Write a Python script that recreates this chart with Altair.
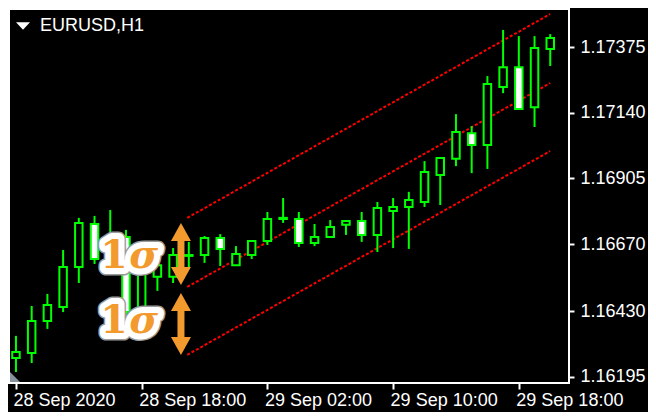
import altair as alt
import pandas as pd

# ---- data (EURUSD, H1) ----
bar_index = list(range(35))
opens = [1.16263, 1.16281, 1.16395, 1.16445, 1.16588, 1.16742, 1.16617, 1.16696, 1.16435, 1.16553,
         1.16553, 1.16628, 1.16631, 1.16692, 1.16595, 1.16631, 1.16681, 1.16760, 1.16760, 1.16674,
         1.16696, 1.16739, 1.16753, 1.16703, 1.16789, 1.16803, 1.16821, 1.16917, 1.16975, 1.17067,
         1.17025, 1.17232, 1.17303, 1.17160, 1.17368]
highs = [1.16342, 1.16449, 1.16492, 1.16649, 1.16764, 1.16771, 1.16792, 1.16721, 1.16585, 1.16613,
         1.16656, 1.16678, 1.16699, 1.16706, 1.16663, 1.16685, 1.16785, 1.16835, 1.16785, 1.16742,
         1.16756, 1.16753, 1.16785, 1.16821, 1.16835, 1.16857, 1.16967, 1.16978, 1.17135, 1.17092,
         1.17271, 1.17436, 1.17414, 1.17414, 1.17421]
lows = [1.16213, 1.16245, 1.16367, 1.16427, 1.16531, 1.16599, 1.16592, 1.16413, 1.16420, 1.16503,
        1.16531, 1.16588, 1.16603, 1.16592, 1.16595, 1.16617, 1.16667, 1.16746, 1.16660, 1.16663,
        1.16696, 1.16703, 1.16678, 1.16642, 1.16656, 1.16653, 1.16803, 1.16810, 1.16949, 1.16924,
        1.16939, 1.17210, 1.17153, 1.17089, 1.17307]
closes = [1.16284, 1.16395, 1.16452, 1.16588, 1.16746, 1.16617, 1.16696, 1.16427, 1.16570, 1.16595,
          1.16631, 1.16631, 1.16692, 1.16653, 1.16635, 1.16681, 1.16760, 1.16764, 1.16674, 1.16696,
          1.16731, 1.16753, 1.16703, 1.16799, 1.16803, 1.16828, 1.16928, 1.16978, 1.17071, 1.17025,
          1.17243, 1.17303, 1.17153, 1.17371, 1.17407]

time_tick_index = [0, 8, 16, 24, 32]
time_tick_labels = ["28 Sep 2020", "28 Sep 18:00", "29 Sep 02:00", "29 Sep 10:00", "29 Sep 18:00"]
price_ticks = [1.16195, 1.16430, 1.16670, 1.16905, 1.17140, 1.17375]

# regression channel (start bar, end bar)
channel_x = [10.9, 34]
channel_upper = [1.16764, 1.17493]
channel_middle = [1.16517, 1.17246]
channel_lower = [1.16274, 1.17003]

# sigma arrows
arrow_x = [10.5, 10.5]
arrow_top = [1.16746, 1.16495]
arrow_bottom = [1.16524, 1.16274]

# "1σ" labels
sigma_one_x = [6.25, 6.25]
sigma_x = [8.125, 8.125]
sigma_y = [1.16585, 1.16352]

symbol = "EURUSD,H1"

X_DOMAIN = [-0.125, 34.875]
Y_DOMAIN = [1.161735, 1.175109]

GREEN = "#00ff00"
RED = "#ff0000"
ORANGE = "#f29a2e"

# ---- scales / axes ----
xscale = alt.Scale(domain=X_DOMAIN, nice=False, zero=False)
yscale = alt.Scale(domain=Y_DOMAIN, nice=False, zero=False)

label_expr = ("[" + ",".join("'%s'" % s for s in time_tick_labels) + "][indexof(["
              + ",".join(str(v) for v in time_tick_index) + "], datum.value)]")

xaxis = alt.Axis(values=time_tick_index, labelExpr=label_expr, title=None, grid=False, domain=False,
                 ticks=True, tickColor="white", tickSize=6, tickWidth=2,
                 labelColor="white", labelFont="Liberation Sans", labelFontSize=18,
                 labelAlign="left", labelBaseline="top", labelPadding=2, labelOffset=-3,
                 labelFlush=False, labelOverlap=False, labelBound=False)
yaxis = alt.Axis(orient="right", values=price_ticks, format=".5f", title=None, grid=False, domain=False,
                 ticks=True, tickColor="white", tickSize=5, tickWidth=2,
                 labelColor="white", labelFont="Liberation Sans", labelFontSize=18,
                 labelAlign="left", labelBaseline="middle", labelPadding=6,
                 labelFlush=False, labelOverlap=False, labelBound=False)


def X(f):
    return alt.X(f"{f}:Q", scale=xscale, axis=xaxis)


def Y(f):
    return alt.Y(f"{f}:Q", scale=yscale, axis=yaxis)


# ---- candles ----
candles = pd.DataFrame({"i": bar_index, "open": opens, "high": highs, "low": lows, "close": closes})
candles["kind"] = ["bull" if c >= o else "bear" for o, c in zip(opens, closes)]

wick = alt.Chart(candles).mark_rule(color=GREEN, strokeWidth=2, clip=True).encode(
    x=X("i"), y=Y("low"), y2="high")
body = alt.Chart(candles).mark_bar(size=7.5, stroke=GREEN, strokeWidth=2, clip=True).encode(
    x=X("i"), y=Y("open"), y2="close",
    fill=alt.Fill("kind:N", scale=alt.Scale(domain=["bull", "bear"], range=["#000000", "#ffffff"]),
                  legend=None))

# ---- channel ----
ch = pd.DataFrame({
    "x": channel_x * 3,
    "price": channel_upper + channel_middle + channel_lower,
    "line": ["upper"] * 2 + ["middle"] * 2 + ["lower"] * 2,
})
lines = alt.Chart(ch).mark_line(color=RED, strokeWidth=2, strokeDash=[3, 2], clip=True).encode(
    x=X("x"), y=Y("price"), detail="line:N")

# ---- arrows ----
arr = pd.DataFrame({"x": arrow_x, "top": arrow_top, "bottom": arrow_bottom})
shaft = alt.Chart(arr).transform_calculate(
    t="datum.top - 0.0004", b="datum.bottom + 0.0004"
).mark_rule(color=ORANGE, strokeWidth=7).encode(x=X("x"), y=Y("t"), y2="b")
head_up = alt.Chart(arr).mark_point(shape="M0,0L1,1.8L-1,1.8Z", size=400, filled=True, color=ORANGE,
                                    opacity=1, strokeWidth=0).encode(x=X("x"), y=Y("top"))
head_down = alt.Chart(arr).mark_point(shape="M0,0L1,-1.8L-1,-1.8Z", size=400, filled=True, color=ORANGE,
                                      opacity=1, strokeWidth=0).encode(x=X("x"), y=Y("bottom"))

# ---- 1σ labels ----
sig = pd.DataFrame({"x1": sigma_one_x, "xs": sigma_x, "y": sigma_y})


def sig_text(field, txt, style, **kw):
    return alt.Chart(sig).mark_text(text=txt, font="DejaVu Serif", fontWeight="bold", fontStyle=style,
                                    fontSize=39, align="center", baseline="alphabetic", **kw).encode(
        x=X(field), y=Y("y"))


halo_layers = []
for stroke_col, sw in (("#9a9a9a", 15), ("#ffffff", 12)):
    halo_layers.append(sig_text("x1", "1", "normal", fill=stroke_col, stroke=stroke_col, strokeWidth=sw,
                                strokeJoin="round"))
    halo_layers.append(sig_text("xs", "σ", "italic", fill=stroke_col, stroke=stroke_col, strokeWidth=sw,
                                strokeJoin="round"))
fg_layers = [sig_text("x1", "1", "normal", fill=ORANGE), sig_text("xs", "σ", "italic", fill=ORANGE)]

# ---- decorations ----
one = pd.DataFrame({"t": [symbol]})
title_tri = alt.Chart(one).mark_point(shape="M-1,-0.55L1,-0.55L0,0.55Z", size=196, filled=True,
                                      color="white", opacity=1, strokeWidth=0).encode(
    x=alt.value(14), y=alt.value(17))
title_txt = alt.Chart(one).mark_text(align="left", baseline="alphabetic", font="Liberation Sans",
                                     fontSize=18, color="white").encode(
    x=alt.value(31), y=alt.value(22), text="t:N")
corner = alt.Chart(one).mark_point(shape="M0,-1L0,0L1,0Z", size=400, filled=True, color="#8793a0",
                                   opacity=1, strokeWidth=0).encode(x=alt.value(1), y=alt.value(373))

chart = alt.layer(
    lines, wick, body, shaft, head_up, head_down, *halo_layers, *fg_layers, title_tri, title_txt, corner
).properties(
    width=560, height=374,
    padding={"left": 1, "top": 1, "right": 79, "bottom": 29},
    autosize=alt.AutoSizeParams(type="none"),
    background="#000000",
).configure_view(stroke="white", strokeWidth=2)

chart.save("out.html", embed_options={"renderer": "svg", "actions": False})
